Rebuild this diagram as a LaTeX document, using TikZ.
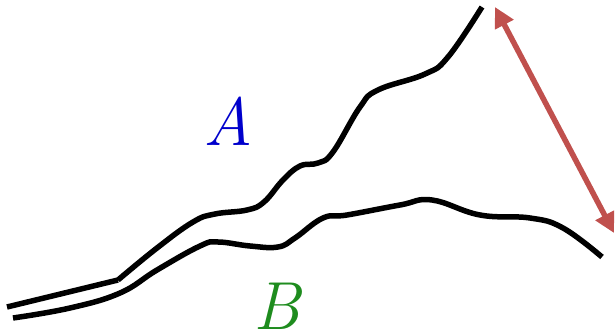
\documentclass[tikz,border=0pt]{standalone}
\usepackage{fontspec}
\usetikzlibrary{arrows.meta}
\definecolor{arrowred}{RGB}{192,80,77}
\definecolor{labblue}{RGB}{0,0,204}
\definecolor{labgreen}{RGB}{30,140,30}
\begin{document}
\begin{tikzpicture}[x=1pt,y=-1pt,
  curve/.style={line width=5.5pt,black},
  lab/.style={font=\fontsize{68}{68}\selectfont\itshape,inner sep=0pt}]
\useasboundingbox (0,0) rectangle (615,336);
% upper curve
\draw[curve] (7,307) -- (118,280)
  plot[smooth,tension=0.7] coordinates {(118,280) (157,248) (193,222) (215,214) (247,210) (264,202) (283,180) (300,166) (318,163) (333,152) (360,107) (378,90) (425,74) (448,57) (482,7)};
% lower curve
\draw[curve] plot[smooth,tension=0.7] coordinates {(13,318) (70,308) (120,293) (157,270) (200,246) (218,242) (250,246) (278,247) (295,238) (323,218) (347,215) (400,205) (432,200) (480,215) (530,218) (563,228) (602,257)};
% labels
\node[lab,text=labblue] (A) at (228,121) {A};
\node[lab,text=labgreen] (B) at (277,306) {B};
% arrow
\coordinate (p) at (495,7);
\coordinate (q) at (614,233);
\draw[arrowred,line width=5.5pt,{Triangle[length=20pt,width=20pt]}-{Triangle[length=20pt,width=20pt]}] (p) -- (q);
\end{tikzpicture}
\end{document}
